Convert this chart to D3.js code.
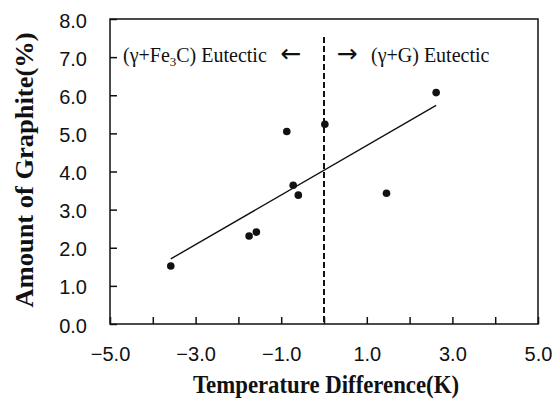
<!DOCTYPE html>
<html>
<head>
<meta charset="utf-8">
<script src="https://d3js.org/d3.v7.min.js"></script>
<style>
  body { margin: 0; background: #fff; }
  .tick text { font-family: "Liberation Sans", Arial, sans-serif; font-size: 20px; fill: #111; }
  .serif { font-family: "Liberation Serif", "Times New Roman", serif; fill: #111; }
  .arrow { font-family: "DejaVu Sans", sans-serif; fill: #111; }
</style>
</head>
<body>
<div id="chart"></div>
<script>
// temperature difference (K) and amount of graphite (%)
var tempDiff = [-3.58, -1.75, -1.58, -0.87, -0.72, -0.60, 0.02, 1.46, 2.62];
var graphite = [1.52, 2.31, 2.41, 5.05, 3.64, 3.38, 5.24, 3.43, 6.07];
var xTicks = [-5, -4, -3, -2, -1, 0, 1, 2, 3, 4, 5];
var xLabels = [-5, -3, -1, 1, 3, 5];
var yTicks = [0, 1, 2, 3, 4, 5, 6, 7, 8];
var splitAt = 0;

var width = 560;
var height = 403;
var mLeft = 110, mRight = 538, mTop = 19, mBottom = 324;

var data = tempDiff.map(function(d, i) { return {x: d, y: graphite[i]}; });

/* Scale */
var xScale = d3.scaleLinear().domain([-5, 5]).range([mLeft, mRight]);
var yScale = d3.scaleLinear().domain([0, 8]).range([mBottom, mTop]);

var svg = d3.select("#chart").append("svg")
  .attr("width", width)
  .attr("height", height);

/* frame */
svg.append("rect")
  .attr("x", mLeft)
  .attr("y", mTop)
  .attr("width", mRight - mLeft)
  .attr("height", mBottom - mTop)
  .attr("fill", "none")
  .attr("stroke", "#111")
  .attr("stroke-width", 1.5);

/* Axes, ticks pointing inside */
var xAxis = d3.axisBottom(xScale)
  .tickValues(xTicks)
  .tickSize(-7)
  .tickFormat(d => xLabels.indexOf(d) >= 0 ? d3.format(".1f")(d).replace("-", "\u2212") : "");

var yAxis = d3.axisLeft(yScale)
  .tickValues(yTicks)
  .tickSize(-7)
  .tickFormat(d3.format(".1f"));

var gx = svg.append("g")
  .attr("transform", `translate(0, ${mBottom})`)
  .call(xAxis);
gx.select(".domain").remove();
gx.selectAll(".tick line").attr("stroke", "#111").attr("stroke-width", 1.5);
gx.selectAll(".tick text").attr("y", 30).attr("dy", "0.35em");

var gy = svg.append("g")
  .attr("transform", `translate(${mLeft}, 0)`)
  .call(yAxis);
gy.select(".domain").remove();
gy.selectAll(".tick line").attr("stroke", "#111").attr("stroke-width", 1.5);
gy.selectAll(".tick text").attr("x", -23).attr("dy", "0.4em");

/* axis titles */
svg.append("text")
  .attr("class", "serif")
  .attr("x", 326)
  .attr("y", 393)
  .attr("text-anchor", "middle")
  .attr("font-weight", "bold")
  .attr("font-size", 26)
  .attr("textLength", 266)
  .attr("lengthAdjust", "spacingAndGlyphs")
  .text("Temperature Difference(K)");

svg.append("text")
  .attr("class", "serif")
  .attr("transform", "translate(33, 170) rotate(-90)")
  .attr("text-anchor", "middle")
  .attr("font-weight", "bold")
  .attr("font-size", 26)
  .attr("textLength", 275)
  .attr("lengthAdjust", "spacingAndGlyphs")
  .text("Amount of Graphite(%)");

/* dashed boundary */
svg.append("line")
  .attr("x1", xScale(splitAt))
  .attr("x2", xScale(splitAt))
  .attr("y1", 37)
  .attr("y2", mBottom)
  .attr("stroke", "#111")
  .attr("stroke-width", 2)
  .attr("stroke-dasharray", "6,3");

/* region labels */
var leftLabel = svg.append("text")
  .attr("class", "serif")
  .attr("x", 123)
  .attr("y", 62)
  .attr("font-size", 20);
leftLabel.append("tspan").text("(\u03b3+Fe");
leftLabel.append("tspan").attr("font-size", 13).attr("dy", 4).text("3");
leftLabel.append("tspan").attr("dy", -4).text("C) Eutectic");

svg.append("text")
  .attr("class", "arrow")
  .attr("x", 291)
  .attr("y", 62)
  .attr("text-anchor", "middle")
  .attr("font-size", 25)
  .text("\u2190");

svg.append("text")
  .attr("class", "arrow")
  .attr("x", 347)
  .attr("y", 62)
  .attr("text-anchor", "middle")
  .attr("font-size", 25)
  .text("\u2192");

svg.append("text")
  .attr("class", "serif")
  .attr("x", 371)
  .attr("y", 62)
  .attr("font-size", 20)
  .text("(\u03b3+G) Eutectic");

/* least squares fit over data range */
var mx = d3.mean(data, d => d.x);
var my = d3.mean(data, d => d.y);
var slope = d3.sum(data, d => (d.x - mx) * (d.y - my)) / d3.sum(data, d => (d.x - mx) * (d.x - mx));
var fit = d3.extent(data, d => d.x).map(x => ({x: x, y: my + slope * (x - mx)}));

var line = d3.line()
  .x(d => xScale(d.x))
  .y(d => yScale(d.y));

svg.append("path")
  .attr("d", line(fit))
  .attr("fill", "none")
  .attr("stroke", "#111")
  .attr("stroke-width", 1.4);

/* points */
svg.selectAll(".dot")
  .data(data).enter()
  .append("circle")
  .attr("class", "dot")
  .attr("cx", d => xScale(d.x))
  .attr("cy", d => yScale(d.y))
  .attr("r", 3.8)
  .attr("fill", "#111");
</script>
</body>
</html>
